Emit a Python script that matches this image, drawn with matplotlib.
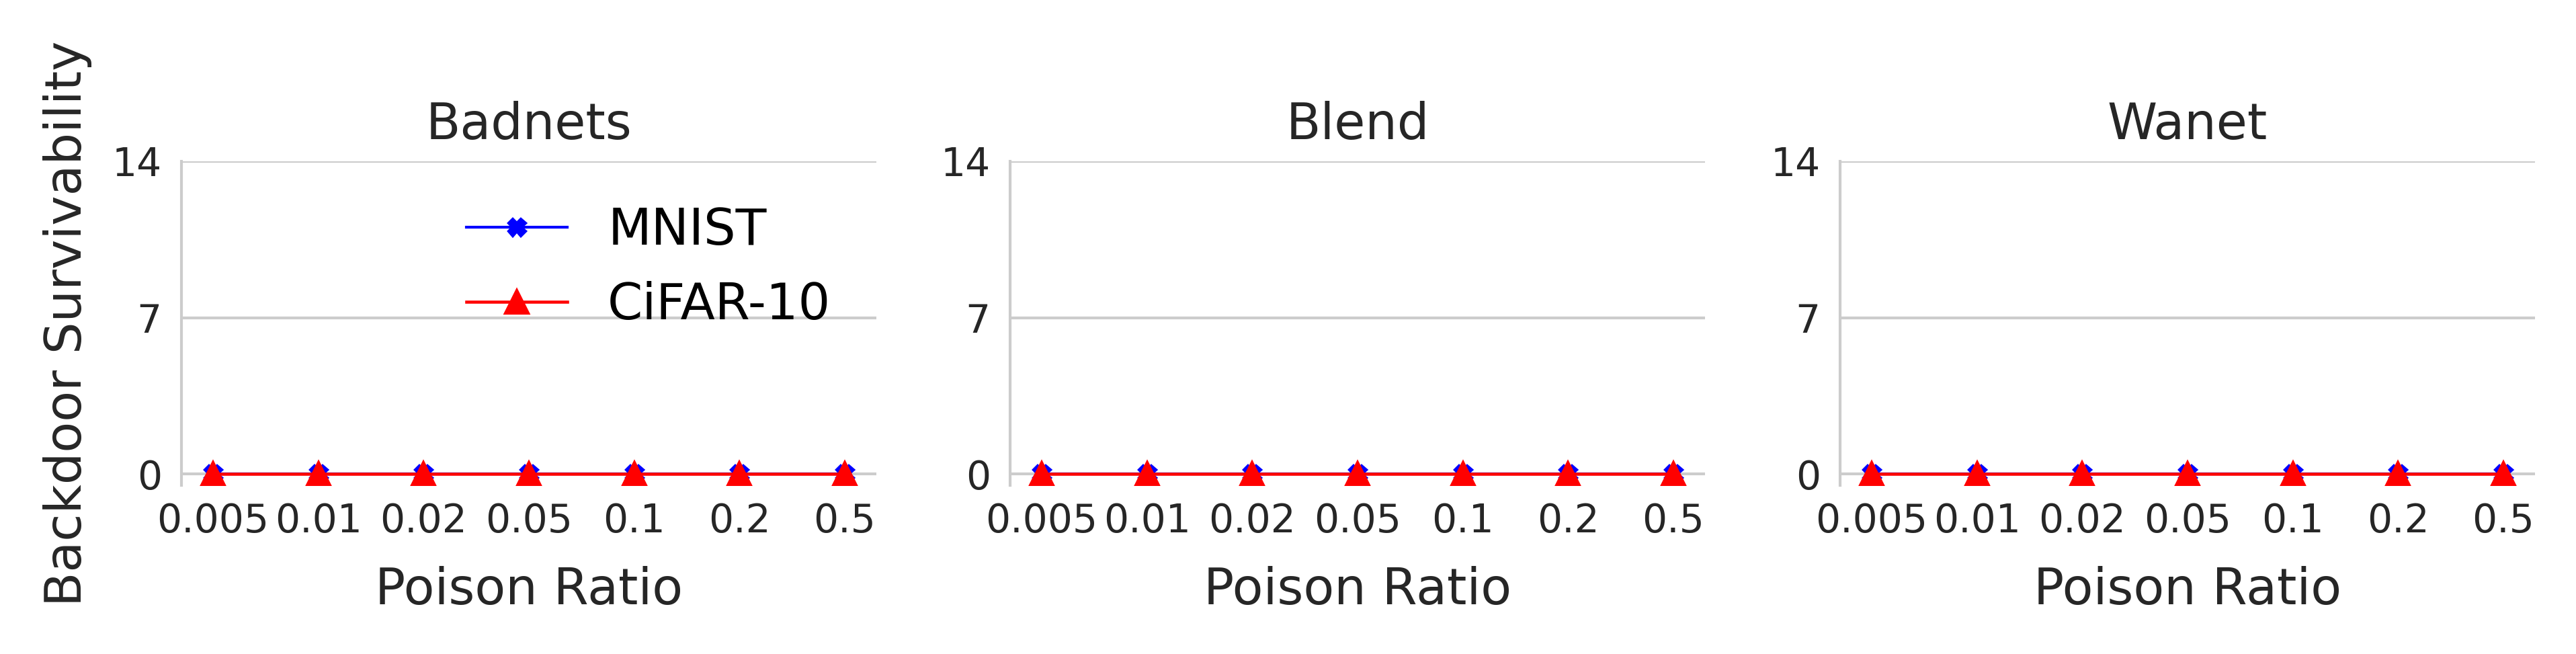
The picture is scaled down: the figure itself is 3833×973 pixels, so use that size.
import matplotlib
matplotlib.use("Agg")
import matplotlib.pyplot as plt
import numpy as np

plt.rcParams['font.family'] = ['DejaVu Sans']

# ---- data ----
poison_ratios = ["0.005", "0.01", "0.02", "0.05", "0.1", "0.2", "0.5"]
attacks = ["Badnets", "Blend", "Wanet"]
mnist_badnets = [0, 0, 0, 0, 0, 0, 0]
cifar_badnets = [0, 0, 0, 0, 0, 0, 0]
mnist_blend = [0, 0, 0, 0, 0, 0, 0]
cifar_blend = [0, 0, 0, 0, 0, 0, 0]
mnist_wanet = [0, 0, 0, 0, 0, 0, 0]
cifar_wanet = [0, 0, 0, 0, 0, 0, 0]
mnist_series = [mnist_badnets, mnist_blend, mnist_wanet]
cifar_series = [cifar_badnets, cifar_blend, cifar_wanet]
y_ticks = [0, 7, 14]

W, H = 3833, 973
dpi = 300
fig = plt.figure(figsize=(W / dpi, H / dpi), dpi=dpi)

lefts = [270, 1503, 2738]
ax_w = 1034
ax_top = 240
ax_bot = 722

x = np.arange(len(poison_ratios))
grid_c = "#cccccc"
text_c = "#262626"

for i, (att, mn, cf) in enumerate(zip(attacks, mnist_series, cifar_series)):
    ax = fig.add_axes([lefts[i] / W, 1 - ax_bot / H, ax_w / W, (ax_bot - ax_top) / H])
    ax.plot(x, mn, color="blue", marker="X", markersize=6, linewidth=1.0, label="MNIST")
    ax.plot(x, cf, color="red", marker="^", markersize=8, linewidth=1.1, label="CiFAR-10")
    ax.set_xlim(-0.3, len(poison_ratios) - 1 + 0.3)
    ax.set_ylim(-0.5, 14)
    ax.set_yticks(y_ticks)
    ax.set_xticks(x)
    ax.set_xticklabels(poison_ratios)
    ax.yaxis.grid(True, color=grid_c, linewidth=1.0)
    ax.xaxis.grid(False)
    ax.set_axisbelow(True)
    for s in ["top", "right", "bottom"]:
        ax.spines[s].set_visible(False)
    ax.spines["left"].set_color(grid_c)
    ax.spines["left"].set_linewidth(1.0)
    ax.tick_params(axis="both", length=0, labelsize=14, colors=text_c)
    ax.tick_params(axis="y", pad=7)
    ax.tick_params(axis="x", pad=6)
    ax.set_title(att, fontsize=18, color=text_c, pad=8)
    ax.set_xlabel("Poison Ratio", fontsize=18, color=text_c, labelpad=9)
    if i == 0:
        ax.set_ylabel("Backdoor Survivability", fontsize=18, color=text_c, labelpad=7)
        ax.legend(loc="upper right", fontsize=18, frameon=False,
                  bbox_to_anchor=(1.0, 1.0))

fig.savefig("out.png", dpi=dpi, facecolor="white")
